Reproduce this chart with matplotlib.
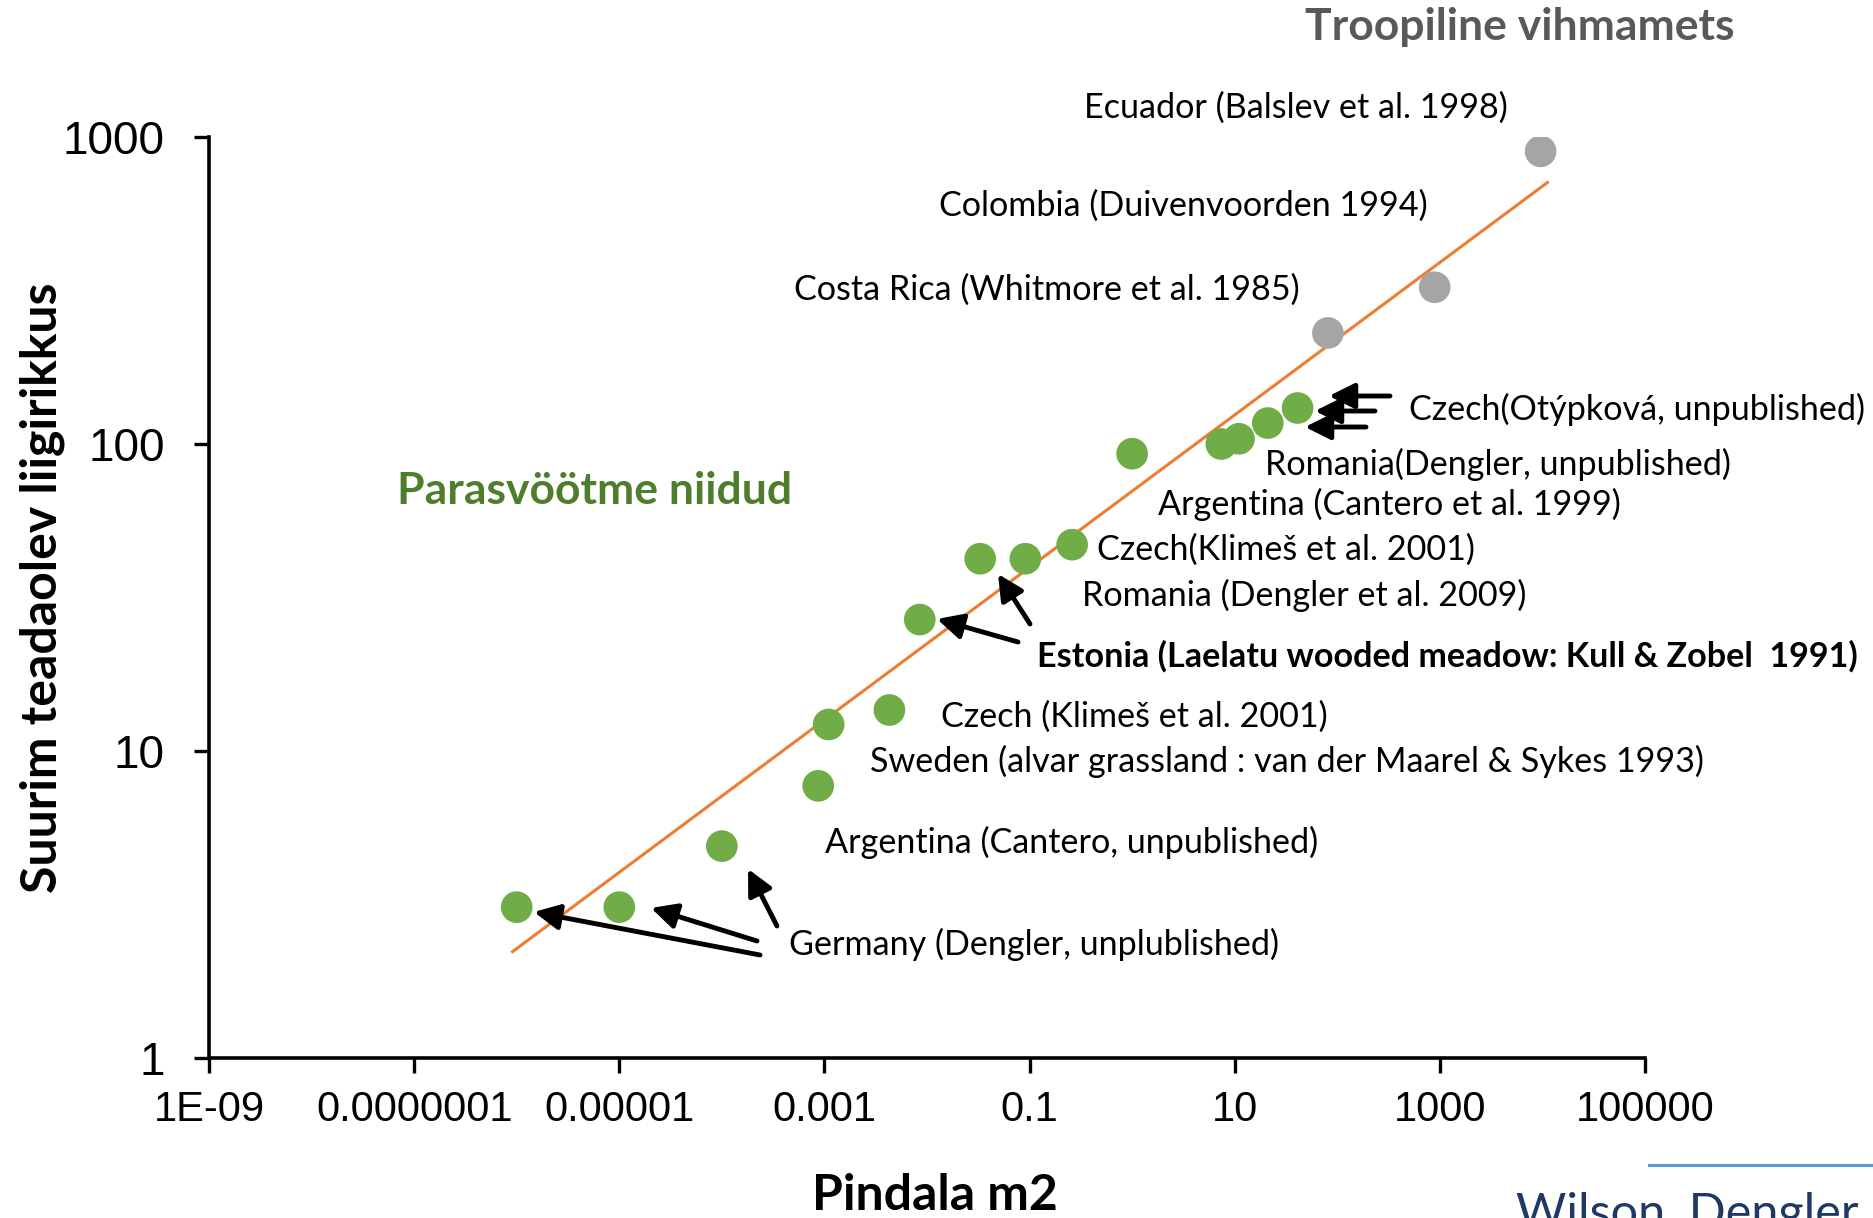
import numpy as np
import matplotlib
matplotlib.use("Agg")
import matplotlib.pyplot as plt

# grassland plots (area m2, max known species richness)
area_grass = [1e-6, 1e-5, 1e-4, 8.7e-4, 1.1e-3, 4.3e-3, 8.5e-3, 0.033, 0.091, 0.26,
              1.0, 7.4, 11, 21, 41]
rich_grass = [3.1, 3.1, 4.9, 7.7, 12.2, 13.6, 26.8, 42.3, 42.3, 47,
              93, 100, 104, 117, 131]
# tropical rain forest plots
area_trop = [81, 890, 9600]
rich_trop = [230, 324, 898]
# power-law trend line ends
fit_x = [9.1e-7, 1.12e4]
fit_y = [2.22, 711]

xticks = [1e-9, 1e-7, 1e-5, 1e-3, 0.1, 10, 1000, 100000]
xticklabels = ["1E-09", "0.0000001", "0.00001", "0.001", "0.1", "10", "1000", "100000"]
yticks = [1, 10, 100, 1000]

W, H = 1874, 1218
fig = plt.figure(figsize=(W / 100, H / 100), dpi=100)
ax = fig.add_axes([209 / W, 1 - 1058 / H, (1645 - 209) / W, (1058 - 137) / H])

ax.plot(fit_x, fit_y, color="#ED7D31", lw=2.2, zorder=2)
ax.scatter(area_grass, rich_grass, s=520, color="#70AD47", edgecolors="none", zorder=3)
ax.scatter(area_trop, rich_trop, s=520, color="#A5A5A5", edgecolors="none", zorder=3)

ax.set_xscale("log")
ax.set_yscale("log")
ax.set_xlim(1e-9, 1e5)
ax.set_ylim(1, 1000)
ax.set_xticks(xticks)
ax.set_xticklabels(xticklabels)
ax.set_yticks(yticks)
ax.set_yticklabels([str(v) for v in yticks])
ax.minorticks_off()
for s in ["top", "right"]:
    ax.spines[s].set_visible(False)
for s in ["left", "bottom"]:
    ax.spines[s].set_linewidth(2.6)
ax.tick_params(axis="both", direction="out", length=11, width=2.4)
ax.tick_params(axis="x", pad=12, labelsize=30)
ax.tick_params(axis="y", pad=21, labelsize=33)
for lab in ax.get_xticklabels() + ax.get_yticklabels():
    lab.set_family("Liberation Sans")

lab_font = "Lato"
fig.text(42 / W, 1 - 588 / H, "Suurim teadaolev liigirikkus", rotation=90,
         ha="center", va="center", fontsize=36, fontweight="bold", family=lab_font)
fig.text(935 / W, 1 - 1195 / H, "Pindala m2", ha="center", va="center",
         fontsize=36, fontweight="bold", family=lab_font)

fig.text(1520 / W, 1 - 27 / H, "Troopiline vihmamets", ha="center", va="center",
         fontsize=32, fontweight="bold", color="#595959", family=lab_font)
fig.text(595 / W, 1 - 491 / H, "Parasvöötme niidud", ha="center", va="center",
         fontsize=32, fontweight="bold", color="#4E7D2B", family=lab_font)

# point labels: (left x, center y from top, text, bold)
labels = [
    (1084, 108, "Ecuador (Balslev et al. 1998)", False),
    (939, 206, "Colombia (Duivenvoorden 1994)", False),
    (794, 290, "Costa Rica (Whitmore et al. 1985)", False),
    (1409, 409, "Czech(Otýpková, unpublished)", False),
    (1265, 464, "Romania(Dengler, unpublished)", False),
    (1158, 504, "Argentina (Cantero et al. 1999)", False),
    (1097, 550, "Czech(Klimeš et al. 2001)", False),
    (1082, 595, "Romania (Dengler et al. 2009)", False),
    (1037, 656, "Estonia (Laelatu wooded meadow: Kull & Zobel  1991)", True),
    (941, 717, "Czech (Klimeš et al. 2001)", False),
    (870, 761, "Sweden (alvar grassland : van der Maarel & Sykes 1993)", False),
    (825, 842, "Argentina (Cantero, unpublished)", False),
    (789, 944, "Germany (Dengler, unplublished)", False),
]
for x, y, txt, bold in labels:
    fig.text(x / W, 1 - y / H, txt, ha="left", va="center", fontsize=24.6,
             fontweight="bold" if bold else "normal", family=lab_font)

# pointer arrows (tail -> head, pixels from top-left)
arrows = [
    ((1390, 396), (1329, 396)), ((1375, 411), (1315, 411)), ((1366, 427), (1305, 427)),
    ((1018, 642), (937, 619)), ((1030, 624), (998, 574)),
    ((760, 955), (534, 912)), ((757, 941), (651, 908)), ((777, 926), (748, 869)),
]
for (tx, ty), (hx, hy) in arrows:
    ax.annotate("", xy=(hx, H - hy), xycoords="figure pixels",
                xytext=(tx, H - ty), textcoords="figure pixels",
                arrowprops=dict(arrowstyle="-|>,head_length=0.7,head_width=0.35",
                                lw=3.5, color="black", shrinkA=0, shrinkB=0,
                                mutation_scale=22))

# footer
fig.add_artist(plt.Line2D([1649 / W, 1], [1 - 1165 / H, 1 - 1165 / H],
                          color="#5B9BD5", lw=2.2, transform=fig.transFigure))
fig.text(1516 / W, 1 - 1192 / H, "Wilson, Dengler", ha="left", va="top",
         fontsize=35, color="#1F3864", family=lab_font)

fig.savefig("out.png", dpi=100)
